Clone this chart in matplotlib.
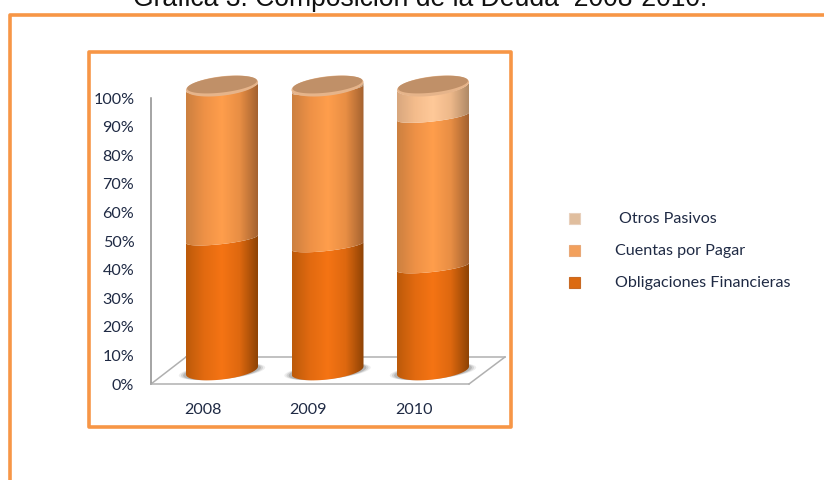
import numpy as np
import matplotlib
matplotlib.use("Agg")
import matplotlib.pyplot as plt
from matplotlib.patches import PathPatch, Rectangle, Polygon
from matplotlib.path import Path
from matplotlib.lines import Line2D
from matplotlib.colors import LinearSegmentedColormap

years = ["2008", "2009", "2010"]
obligaciones = [46.2, 43.8, 36.4]
cuentas = [53.3, 55.2, 52.9]
otros = [0.5, 1.0, 10.7]
series_names = ["Obligaciones Financieras", "Cuentas por Pagar", " Otros Pasivos"]
axis_ticks = list(range(0, 101, 10))
title = "Gráfica 3. Composición de la Deuda  2008-2010."

W, H = 824, 480
FONT = "Lato"
TEXT = "#1F2A44"
ORANGE = "#F79646"
fig = plt.figure(figsize=(W / 100, H / 100), dpi=100, facecolor="white")


def px_axes(x0, y0, x1, y1, **kw):
    return fig.add_axes([x0 / W, 1 - y1 / H, (x1 - x0) / W, (y1 - y0) / H], **kw)


# Value axis: 0-100 % along the front-left wall
ax_scale = px_axes(151, 98, 469, 384)
ax_scale.set_ylim(0, 100)
ax_scale.set_xlim(-0.49, 2.52)
ax_scale.patch.set_alpha(0)
for s in ("top", "right"):
    ax_scale.spines[s].set_visible(False)
ax_scale.spines["left"].set_color("#8C8C8C")
ax_scale.spines["bottom"].set_color("#B0B0B0")
ax_scale.spines["left"].set_linewidth(1.1)
ax_scale.spines["bottom"].set_linewidth(1.1)
ax_scale.set_yticks(axis_ticks)
ax_scale.set_yticklabels([f"{t}%" for t in axis_ticks], fontname=FONT, fontsize=11.6, color=TEXT)
ax_scale.set_xticks(range(len(years)))
ax_scale.set_xticklabels(years, fontname=FONT, fontsize=11.6, color=TEXT)
ax_scale.tick_params(axis="y", length=0, pad=12)
ax_scale.tick_params(axis="x", length=0, pad=14)

# Cylinder axes: value 0 at the base-ellipse centre, value 100 at the cap centre
PX_X = 105.5
PX_Y = 2.845
Y_LO, Y_HI = -10, 112
ax = px_axes(222 - 0.5 * PX_X, 370.5 - Y_HI * PX_Y, 433 + 0.5 * PX_X, 370.5 - Y_LO * PX_Y)
ax.axis("off")
ax.patch.set_alpha(0)

A = 36 / PX_X
TILT = 4 / PX_Y
B_END = 9 / PX_Y
B_MID = 5 / PX_Y


def ellipse_xy(cx, v, t, b):
    return cx + A * np.cos(t), v + TILT * np.cos(t) - b * np.sin(t)


def band_path(cx, v0, b0, v1, b1):
    t = np.linspace(0, np.pi, 60)
    x0, y0 = ellipse_xy(cx, v0, t, b0)
    x1, y1 = ellipse_xy(cx, v1, t[::-1], b1)
    verts = np.vstack([np.c_[x0, y0], np.c_[x1, y1], [[x0[0], y0[0]]]])
    return Path(verts, closed=True)


ramps = [
    ["#BC5A0A", "#E26A10", "#F57414", "#DE680F", "#8E4305"],
    ["#CC8040", "#EE9146", "#FF9E4C", "#E88E44", "#A46230"],
    ["#D8A77E", "#F4BC8C", "#FFC999", "#EDB88A", "#B08A66"],
]
cmaps = [LinearSegmentedColormap.from_list(f"r{i}", r) for i, r in enumerate(ramps)]
grad = np.linspace(0, 1, 128)[None, :]

for i in range(len(years)):
    # floor shadow, only peeking out at the sides of the base
    for k, a in zip((1.20, 1.14, 1.08), (0.10, 0.16, 0.24)):
        t = np.linspace(0, 2 * np.pi, 80)
        x = i + k * A * np.cos(t)
        y = -1 / PX_Y + TILT * np.cos(t) - 0.85 * B_END * np.sin(t)
        ax.add_patch(Polygon(np.c_[x, y], closed=True, fc="#555555", ec="none", alpha=a, zorder=2))

    # stacked bands
    base, b_low = 0.0, B_END
    for j, vals in enumerate((obligaciones, cuentas, otros)):
        top = base + vals[i]
        b_high = B_END if j == 2 else B_MID
        im = ax.imshow(grad, cmap=cmaps[j], extent=(i - A, i + A, Y_LO, Y_HI), aspect="auto", zorder=3 + j)
        p = PathPatch(band_path(i, base, b_low, top, b_high), transform=ax.transData, fc="none", ec="none")
        ax.add_patch(p)
        im.set_clip_path(p)
        base, b_low = top, b_high

    # lit rim + cap on the top of the stack
    t = np.linspace(0, 2 * np.pi, 120)
    x, y = ellipse_xy(i, base, t, B_END * 1.08)
    ax.add_patch(Polygon(np.c_[x, y], closed=True, fc="#E6B48A", ec="none", zorder=7))
    x2 = i + 0.97 * A * np.cos(t)
    y2 = base + 1.4 / PX_Y + 0.97 * TILT * np.cos(t) - B_END * 0.88 * np.sin(t)
    ax.add_patch(Polygon(np.c_[x2, y2], closed=True, fc="#C09068", ec="none", zorder=8))

ax.set_xlim(-0.5, 2.5)
ax.set_ylim(Y_LO, Y_HI)

# Floor of the chart
for xs, ys in (([0, 35 / 318], [0, 27 / 286]),
               ([1, 354 / 318], [0, 27 / 286]),
               ([35 / 318, 354 / 318], [27 / 286, 27 / 286])):
    ax_scale.add_line(Line2D(xs, ys, transform=ax_scale.transAxes, color="#B0B0B0", lw=1.1,
                             zorder=1, clip_on=False))


def fig_line(xs, ys, **kw):
    fig.add_artist(Line2D([v / W for v in xs], [1 - v / H for v in ys], transform=fig.transFigure, **kw))


# Frames
fig_line([10, 10, W], [H, 15, 15], color=ORANGE, lw=2.6, solid_joinstyle="round")
fig.add_artist(Rectangle((89 / W, 1 - 427 / H), 422 / W, 375 / H, transform=fig.transFigure,
                         fc="none", ec=ORANGE, lw=2.6, joinstyle="round"))

# Title, cut by the top of the picture as in the source
fig.text(420.5 / W, 1 - 6.5 / H, title, ha="center", va="baseline",
         fontname="Liberation Sans", fontsize=19.1, color="#111111")

# Legend
legend_y = [219, 251, 283]
legend_x = [619, 615, 615]
legend_colors = ["#DC6A10", "#F2A05C", "#E0BE9E"]
edge_colors = ["#C86A24", "#E8A878", "#E8D0BC"]
order = [2, 1, 0]
for idx, yy, xx in zip(order, legend_y, legend_x):
    fig.add_artist(Rectangle((569 / W, 1 - (yy + 4.5) / H), 11 / W, 11 / H, transform=fig.transFigure,
                             fc=legend_colors[idx], ec=edge_colors[idx], lw=0.8))
    fig.text(xx / W, 1 - yy / H, series_names[idx].strip(), ha="left", va="center",
             fontname=FONT, fontsize=11.6, color=TEXT)

fig.savefig("out.png", dpi=100, facecolor="white")
